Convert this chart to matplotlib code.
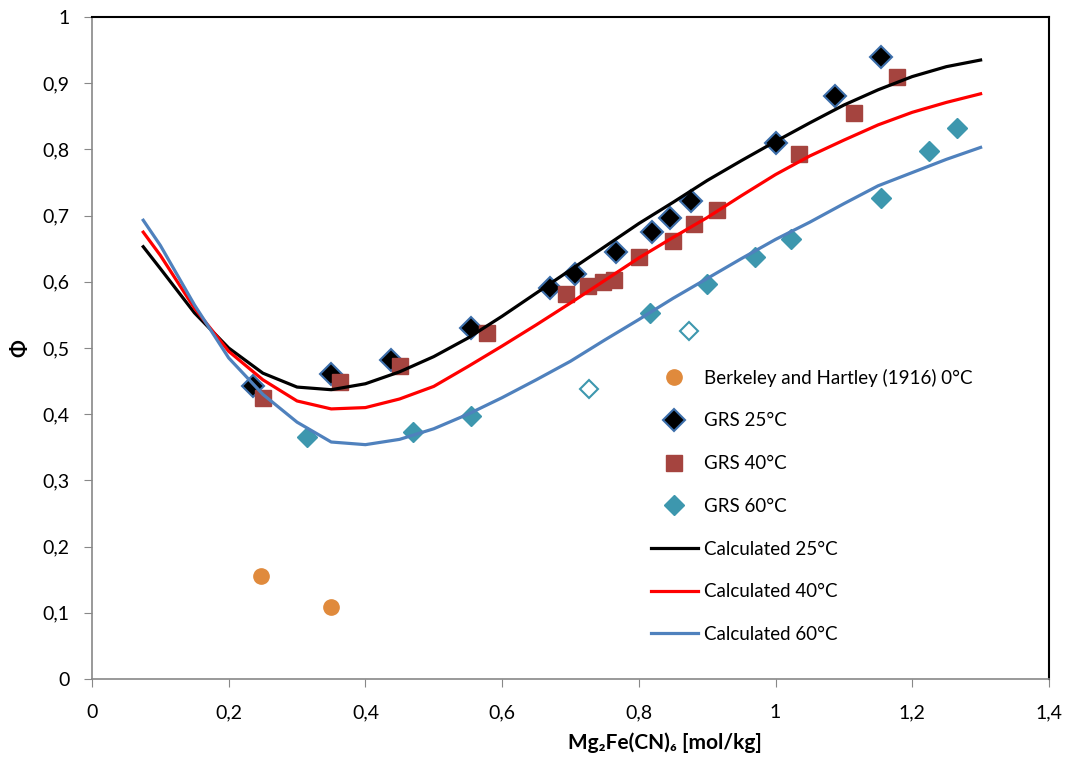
#! /usr/bin/env python3

import matplotlib
matplotlib.use("Agg")
import matplotlib.pyplot as plt
import matplotlib.ticker as ticker

plt.rcParams['font.family'] = ['Lato', 'DejaVu Sans']

# Berkeley and Hartley (1916) 0 C
bh_x = [0.247, 0.350]
bh_y = [0.155, 0.109]

# GRS 25 C
g25_x = [0.235, 0.350, 0.437, 0.555, 0.670, 0.706, 0.767, 0.820, 0.845, 0.877, 1.000, 1.087, 1.155]
g25_y = [0.443, 0.460, 0.482, 0.530, 0.590, 0.612, 0.645, 0.675, 0.697, 0.722, 0.810, 0.880, 0.940]

# GRS 40 C
g40_x = [0.250, 0.363, 0.450, 0.578, 0.693, 0.725, 0.748, 0.763, 0.800, 0.850, 0.880, 0.915, 1.035, 1.115, 1.178]
g40_y = [0.425, 0.448, 0.473, 0.522, 0.581, 0.593, 0.600, 0.603, 0.638, 0.662, 0.687, 0.708, 0.793, 0.855, 0.910]

# GRS 60 C
g60_x = [0.315, 0.470, 0.555, 0.817, 0.900, 0.970, 1.023, 1.155, 1.225, 1.265]
g60_y = [0.366, 0.373, 0.398, 0.553, 0.597, 0.638, 0.665, 0.727, 0.797, 0.833]
# GRS 60 C, open symbols
g60o_x = [0.727, 0.873]
g60o_y = [0.438, 0.525]

# calculated curves
calc_x = [0.075, 0.10, 0.15, 0.20, 0.25, 0.30, 0.35, 0.40, 0.45, 0.50, 0.55, 0.60, 0.65,
          0.70, 0.75, 0.80, 0.85, 0.90, 0.95, 1.00, 1.05, 1.10, 1.15, 1.20, 1.25, 1.30]
calc25 = [0.653, 0.620, 0.553, 0.500, 0.462, 0.441, 0.437, 0.446, 0.464, 0.487, 0.515, 0.548, 0.583,
          0.618, 0.653, 0.688, 0.720, 0.753, 0.783, 0.812, 0.840, 0.867, 0.890, 0.910, 0.925, 0.935]
calc40 = [0.675, 0.640, 0.560, 0.495, 0.452, 0.420, 0.408, 0.410, 0.423, 0.442, 0.472, 0.503, 0.535,
          0.568, 0.602, 0.636, 0.667, 0.697, 0.730, 0.762, 0.790, 0.814, 0.837, 0.856, 0.871, 0.884]
calc60 = [0.693, 0.655, 0.565, 0.485, 0.430, 0.388, 0.358, 0.354, 0.362, 0.378, 0.400, 0.425, 0.452,
          0.480, 0.512, 0.543, 0.575, 0.605, 0.635, 0.664, 0.690, 0.718, 0.745, 0.765, 0.785, 0.803]

fig = plt.figure(figsize=(10.72, 7.62), dpi=100)
ax = fig.add_axes([0.0858, 0.1089, 0.8927, 0.8688])

ax.plot(bh_x, bh_y, 'o', color='#E08A3C', ms=11, mec='#E08A3C', label='Berkeley and Hartley (1916) 0°C')
ax.plot(g25_x, g25_y, 'D', color='black', ms=11, mec='#3C6EAA', mew=1.5, label='GRS 25°C')
ax.plot(g40_x, g40_y, 's', color='#A5443F', ms=12, mec='#A5443F', label='GRS 40°C')
ax.plot(g60_x, g60_y, 'D', color='#3D97AE', ms=10, mec='#3D97AE', label='GRS 60°C')
ax.plot(g60o_x, g60o_y, 'D', color='white', ms=9, mec='#3D97AE', mew=1.5)
ax.plot(calc_x, calc25, '-', color='black', lw=2.3, label='Calculated 25°C')
ax.plot(calc_x, calc40, '-', color='#FF0000', lw=2.3, label='Calculated 40°C')
ax.plot(calc_x, calc60, '-', color='#4F81BD', lw=2.3, label='Calculated 60°C')

ax.set_xlim(0, 1.4)
ax.set_ylim(0, 1)
ax.xaxis.set_major_locator(ticker.MultipleLocator(0.2))
ax.yaxis.set_major_locator(ticker.MultipleLocator(0.1))


def comma_fmt(v, _):
    if abs(v - round(v)) < 1e-9:
        return f"{int(round(v))}"
    return f"{v:.1f}".replace('.', ',')


ax.xaxis.set_major_formatter(ticker.FuncFormatter(comma_fmt))
ax.yaxis.set_major_formatter(ticker.FuncFormatter(comma_fmt))
ax.tick_params(direction='out', length=6, color='#888888', labelsize=14)
ax.tick_params(axis='x', pad=12)
ax.tick_params(axis='y', pad=10)

for side in ('left', 'bottom'):
    ax.spines[side].set_color('#888888')
    ax.spines[side].set_linewidth(1.2)
for side in ('top', 'right'):
    ax.spines[side].set_color('black')
    ax.spines[side].set_linewidth(1.5)

ax.set_xlabel('Mg₂Fe(CN)₆ [mol/kg]', fontsize=15, fontweight='bold', labelpad=8, x=0.599)
ax.set_ylabel('Φ', fontsize=15, fontweight='bold', labelpad=9)

ax.legend(loc='upper left', bbox_to_anchor=(0.600, 0.526), bbox_transform=fig.transFigure,
          frameon=False, fontsize=13.5, labelspacing=1.37, handlelength=2.5, handletextpad=0.35,
          borderaxespad=0)

plt.savefig('out.png', dpi=100)
plt.close()
